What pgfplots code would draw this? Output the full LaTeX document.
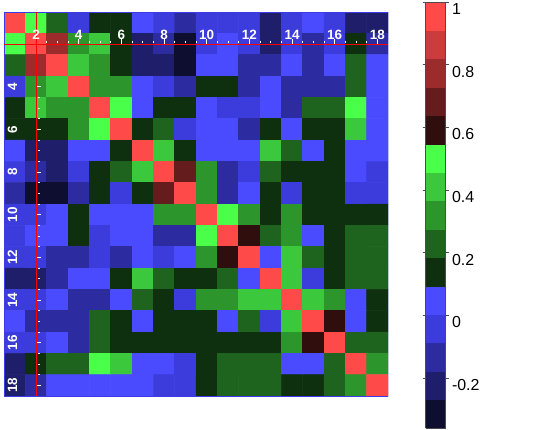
\documentclass[border=0pt]{standalone}
\usepackage{pgfplots}
\pgfplotsset{compat=1.18}
\usepackage{fontspec}
\setmainfont{Liberation Sans}
\pgfplotsset{colormap={corr}{
 rgb255=(14,14,48) rgb255=(30,30,106) rgb255=(44,44,160) rgb255=(60,60,220) rgb255=(74,74,255)
 rgb255=(14,48,14) rgb255=(30,100,30) rgb255=(44,150,44) rgb255=(60,200,60) rgb255=(74,255,74)
 rgb255=(48,14,14) rgb255=(100,28,28) rgb255=(156,44,44) rgb255=(204,60,60) rgb255=(255,74,74)}}
\begin{document}
\begin{tikzpicture}
\useasboundingbox (0,0) rectangle (545bp,430bp);
\begin{axis}[
  at={(4bp,34bp)}, anchor=south west,
  scale only axis, width=384bp, height=384bp,
  xmin=-1.5, xmax=16.5, ymin=-1.5, ymax=16.5, y dir=reverse,
  enlargelimits=false,
  axis on top,
  axis lines=middle,
  hide obscured x ticks=false, hide obscured y ticks=false,
  axis line style={draw=red, line width=0.8bp, -},
  xtick={0,2,4,6,8,10,12,14,16},
  xticklabels={2,4,6,8,10,12,14,16,18},
  ytick={2,4,6,8,10,12,14,16},
  yticklabels={4,6,8,10,12,14,16,18},
  minor x tick num=3, minor y tick num=3,
  tick align=center,
  major tick length=5bp, minor tick length=2bp,
  x tick style={draw=white, line width=0.8bp, yshift=2.5bp},
  y tick style={draw=white, line width=0.8bp, xshift=2.5bp},
  xticklabel style={anchor=center, text=white, font=\bfseries\fontsize{13.5}{13.5}\selectfont, yshift=11.5bp},
  yticklabel style={xshift=-21bp, anchor=center, rotate=90, text=white, font=\bfseries\fontsize{13.5}{13.5}\selectfont},
  colormap name=corr,
  colormap access=piecewise constant,
  point meta min=-0.36, point meta max=1,
  colorbar,
  colorbar style={
    at={(parent axis.south east)}, anchor=south west,
    xshift=29bp, yshift=-32bp,
    scale only axis, width=20bp, height=426bp,
    ytick={-0.2,0,0.2,0.4,0.6,0.8,1},
    yticklabels={-0.2,0,0.2,0.4,0.6,0.8,1},
    yticklabel style={font=\fontsize{16}{16}\selectfont, yshift=-7bp},
    major tick length=3bp, tick align=outside,
    axis line style={draw=black!70, line width=0.5bp},
    tick style={draw=black!70, line width=0.5bp},
  },
]
\addplot[matrix plot*, mesh/cols=18, mesh/ordering=x varies, point meta=explicit]
 table[row sep=\\, x expr=\thisrow{col}-2, y expr=\thisrow{row}-2, meta=v] {
col row v\\
1 1 1\\ 2 1 0.50\\ 3 1 0.23\\ 4 1 -0.04\\ 5 1 0.14\\ 6 1 0.14\\ 7 1 0.05\\ 8 1 -0.04\\ 9 1 -0.13\\ 10 1 -0.04\\ 11 1 -0.04\\ 12 1 -0.04\\ 13 1 -0.22\\ 14 1 -0.04\\ 15 1 0.05\\ 16 1 -0.04\\ 17 1 -0.22\\ 18 1 -0.22\\
1 2 0.50\\ 2 2 1\\ 3 2 0.77\\ 4 2 0.32\\ 5 2 0.41\\ 6 2 0.14\\ 7 2 -0.22\\ 8 2 -0.13\\ 9 2 -0.32\\ 10 2 -0.04\\ 11 2 0.05\\ 12 2 -0.04\\ 13 2 -0.22\\ 14 2 -0.04\\ 15 2 -0.13\\ 16 2 -0.04\\ 17 2 0.14\\ 18 2 -0.13\\
1 3 0.23\\ 2 3 0.77\\ 3 3 1\\ 4 3 0.41\\ 5 3 0.32\\ 6 3 0.14\\ 7 3 -0.22\\ 8 3 -0.22\\ 9 3 -0.32\\ 10 3 0.05\\ 11 3 0.05\\ 12 3 -0.13\\ 13 3 -0.13\\ 14 3 0.05\\ 15 3 -0.13\\ 16 3 0.05\\ 17 3 0.23\\ 18 3 0.05\\
1 4 -0.04\\ 2 4 0.32\\ 3 4 0.41\\ 4 4 1\\ 5 4 0.32\\ 6 4 0.32\\ 7 4 0.05\\ 8 4 -0.04\\ 9 4 -0.13\\ 10 4 0.14\\ 11 4 0.14\\ 12 4 -0.13\\ 13 4 0.05\\ 14 4 -0.13\\ 15 4 -0.13\\ 16 4 -0.13\\ 17 4 0.23\\ 18 4 0.05\\
1 5 0.14\\ 2 5 0.41\\ 3 5 0.32\\ 4 5 0.32\\ 5 5 1\\ 6 5 0.50\\ 7 5 0.05\\ 8 5 0.14\\ 9 5 0.14\\ 10 5 0.05\\ 11 5 -0.04\\ 12 5 -0.04\\ 13 5 0.05\\ 14 5 -0.13\\ 15 5 0.23\\ 16 5 0.23\\ 17 5 0.50\\ 18 5 0.05\\
1 6 0.14\\ 2 6 0.14\\ 3 6 0.14\\ 4 6 0.32\\ 5 6 0.50\\ 6 6 1\\ 7 6 0.14\\ 8 6 0.23\\ 9 6 -0.04\\ 10 6 0.05\\ 11 6 0.05\\ 12 6 -0.13\\ 13 6 0.14\\ 14 6 0.05\\ 15 6 0.14\\ 16 6 0.14\\ 17 6 0.41\\ 18 6 0.05\\
1 7 0.05\\ 2 7 -0.22\\ 3 7 -0.22\\ 4 7 0.05\\ 5 7 0.05\\ 6 7 0.14\\ 7 7 1\\ 8 7 0.41\\ 9 7 0.14\\ 10 7 0.05\\ 11 7 0.05\\ 12 7 0.05\\ 13 7 0.41\\ 14 7 0.23\\ 15 7 0.05\\ 16 7 0.14\\ 17 7 0.05\\ 18 7 0.05\\
1 8 -0.04\\ 2 8 -0.13\\ 3 8 -0.22\\ 4 8 -0.04\\ 5 8 0.14\\ 6 8 0.23\\ 7 8 0.41\\ 8 8 1\\ 9 8 0.68\\ 10 8 0.32\\ 11 8 -0.13\\ 12 8 -0.04\\ 13 8 0.23\\ 14 8 0.14\\ 15 8 0.14\\ 16 8 0.14\\ 17 8 0.05\\ 18 8 -0.04\\
1 9 -0.13\\ 2 9 -0.32\\ 3 9 -0.32\\ 4 9 -0.13\\ 5 9 0.14\\ 6 9 -0.04\\ 7 9 0.14\\ 8 9 0.68\\ 9 9 1\\ 10 9 0.32\\ 11 9 -0.13\\ 12 9 0.05\\ 13 9 0.14\\ 14 9 -0.04\\ 15 9 0.14\\ 16 9 0.14\\ 17 9 -0.04\\ 18 9 -0.04\\
1 10 -0.04\\ 2 10 -0.04\\ 3 10 0.05\\ 4 10 0.14\\ 5 10 0.05\\ 6 10 0.05\\ 7 10 0.05\\ 8 10 0.32\\ 9 10 0.32\\ 10 10 1\\ 11 10 0.50\\ 12 10 0.32\\ 13 10 0.14\\ 14 10 0.32\\ 15 10 0.14\\ 16 10 0.14\\ 17 10 0.14\\ 18 10 0.14\\
1 11 -0.04\\ 2 11 0.05\\ 3 11 0.05\\ 4 11 0.14\\ 5 11 -0.04\\ 6 11 0.05\\ 7 11 0.05\\ 8 11 -0.13\\ 9 11 -0.13\\ 10 11 0.50\\ 11 11 1\\ 12 11 0.59\\ 13 11 0.23\\ 14 11 0.32\\ 15 11 0.05\\ 16 11 0.14\\ 17 11 0.23\\ 18 11 0.23\\
1 12 -0.04\\ 2 12 -0.04\\ 3 12 -0.13\\ 4 12 -0.13\\ 5 12 -0.04\\ 6 12 -0.13\\ 7 12 0.05\\ 8 12 -0.04\\ 9 12 0.05\\ 10 12 0.32\\ 11 12 0.59\\ 12 12 1\\ 13 12 0.05\\ 14 12 0.41\\ 15 12 0.23\\ 16 12 0.14\\ 17 12 0.23\\ 18 12 0.23\\
1 13 -0.22\\ 2 13 -0.22\\ 3 13 -0.13\\ 4 13 0.05\\ 5 13 0.05\\ 6 13 0.14\\ 7 13 0.41\\ 8 13 0.23\\ 9 13 0.14\\ 10 13 0.14\\ 11 13 0.23\\ 12 13 0.05\\ 13 13 1\\ 14 13 0.41\\ 15 13 -0.04\\ 16 13 0.14\\ 17 13 0.23\\ 18 13 0.23\\
1 14 -0.04\\ 2 14 -0.04\\ 3 14 0.05\\ 4 14 -0.13\\ 5 14 -0.13\\ 6 14 0.05\\ 7 14 0.23\\ 8 14 0.14\\ 9 14 -0.04\\ 10 14 0.32\\ 11 14 0.32\\ 12 14 0.41\\ 13 14 0.41\\ 14 14 1\\ 15 14 0.41\\ 16 14 0.32\\ 17 14 0.05\\ 18 14 0.14\\
1 15 0.05\\ 2 15 -0.13\\ 3 15 -0.13\\ 4 15 -0.13\\ 5 15 0.23\\ 6 15 0.14\\ 7 15 0.05\\ 8 15 0.14\\ 9 15 0.14\\ 10 15 0.14\\ 11 15 0.05\\ 12 15 0.23\\ 13 15 -0.04\\ 14 15 0.41\\ 15 15 1\\ 16 15 0.59\\ 17 15 0.05\\ 18 15 0.14\\
1 16 -0.04\\ 2 16 -0.04\\ 3 16 0.05\\ 4 16 -0.13\\ 5 16 0.23\\ 6 16 0.14\\ 7 16 0.14\\ 8 16 0.14\\ 9 16 0.14\\ 10 16 0.14\\ 11 16 0.14\\ 12 16 0.14\\ 13 16 0.14\\ 14 16 0.32\\ 15 16 0.59\\ 16 16 1\\ 17 16 0.23\\ 18 16 0.23\\
1 17 -0.22\\ 2 17 0.14\\ 3 17 0.23\\ 4 17 0.23\\ 5 17 0.50\\ 6 17 0.41\\ 7 17 0.05\\ 8 17 0.05\\ 9 17 -0.04\\ 10 17 0.14\\ 11 17 0.23\\ 12 17 0.23\\ 13 17 0.23\\ 14 17 0.05\\ 15 17 0.05\\ 16 17 0.23\\ 17 17 1\\ 18 17 0.32\\
1 18 -0.22\\ 2 18 -0.13\\ 3 18 0.05\\ 4 18 0.05\\ 5 18 0.05\\ 6 18 0.05\\ 7 18 0.05\\ 8 18 -0.04\\ 9 18 -0.04\\ 10 18 0.14\\ 11 18 0.23\\ 12 18 0.23\\ 13 18 0.23\\ 14 18 0.14\\ 15 18 0.14\\ 16 18 0.23\\ 17 18 0.32\\ 18 18 1\\
};
\draw[draw={rgb,255:red,60;green,60;blue,230}, line width=1bp] (rel axis cs:0,0) rectangle (rel axis cs:1,1);
\end{axis}
\end{tikzpicture}
\end{document}
